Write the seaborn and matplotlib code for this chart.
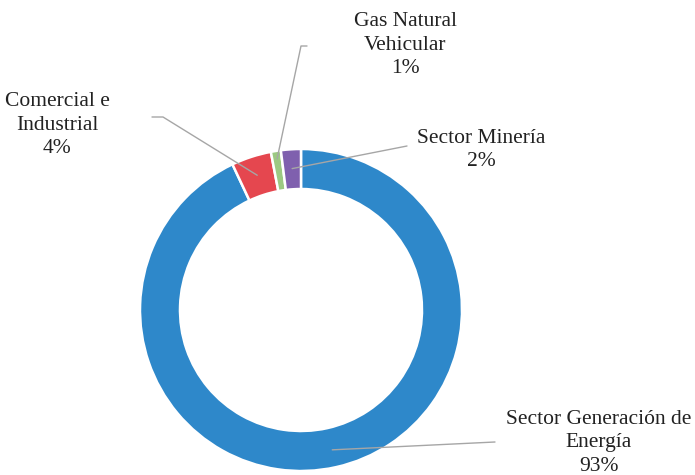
import numpy as np
import matplotlib
matplotlib.use("Agg")
import matplotlib.pyplot as plt
import seaborn as sns

# Data
categories = ["Sector Generación de\nEnergía", "Comercial e\nIndustrial", "Gas Natural\nVehicular", "Sector Minería"]
values = [93, 4, 1, 2]
colors = ["#2E88CA", "#E5474F", "#9CC982", "#7F60AE"]

sns.set_theme(style="white")
plt.rcParams["font.family"] = ["Liberation Serif", "DejaVu Serif"]

W, H = 695, 475
fig = plt.figure(figsize=(W / 100, H / 100), dpi=100)
ax = fig.add_axes([0, 0, 1, 1])
ax.set_xlim(0, W)
ax.set_ylim(0, H)
ax.set_aspect("equal")
ax.axis("off")

cx, cy = 301, H - 310
R = 161
wedges, _ = ax.pie(values, colors=colors, startangle=90, counterclock=False,
                   center=(cx, cy), radius=R,
                   wedgeprops=dict(width=40, edgecolor="white", linewidth=1.8))
ax.set_xlim(0, W)
ax.set_ylim(0, H)

# label positions (pixel, top-origin) and leader start points
label_pos = [(599, 443), (57, 125), (405, 45), (481, 150)]
leader_start = [[(495, 442)], [(152, 117), (163, 117)], [(307, 46), (301, 46)], [(407, 146)]]
leader_r = [0.89, 0.88, 0.95, 0.88]

total = sum(values)
for i, (w, lab, v) in enumerate(zip(wedges, categories, values)):
    mid = np.deg2rad((w.theta1 + w.theta2) / 2)
    ex = cx + leader_r[i] * R * np.cos(mid)
    ey = cy + leader_r[i] * R * np.sin(mid)
    pts = [(x, H - y) for x, y in leader_start[i]] + [(ex, ey)]
    xs, ys = zip(*pts)
    ax.plot(xs, ys, color="#A6A6A6", lw=1.0, zorder=5)
    tx, ty = label_pos[i]
    ax.text(tx, H - ty, f"{lab}\n{round(v / total * 100)}%", ha="center", va="center",
            fontsize=15.5, color="#222222", linespacing=1.35)

fig.savefig("out.png", dpi=100)
